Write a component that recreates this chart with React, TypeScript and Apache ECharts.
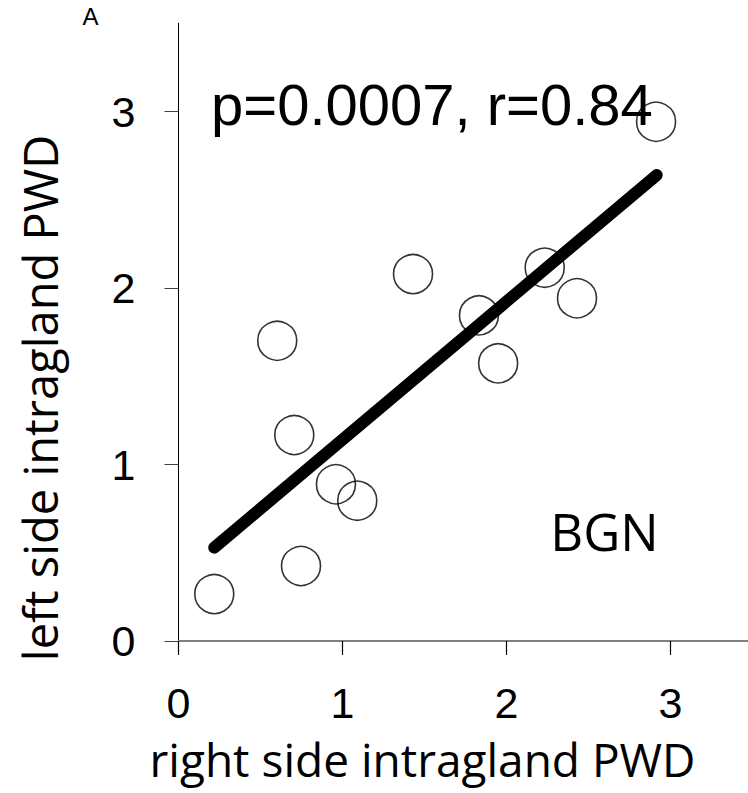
import React, { useEffect, useRef } from "react";
import * as echarts from "echarts";

// right side intragland PWD (x) and left side intragland PWD (y)
const rightPWD = [0.218, 0.747, 0.602, 0.706, 0.96, 1.09, 1.43, 1.832, 1.949, 2.233, 2.43, 2.912];
const leftPWD = [0.266, 0.425, 1.701, 1.167, 0.888, 0.795, 2.079, 1.845, 1.573, 2.115, 1.942, 2.942];
// regression line end points
const fitX = [0.218, 2.916];
const fitY = [0.529, 2.64];
const tickValues = [0, 1, 2, 3];

const statText = "p=0.0007, r=0.84";
const groupText = "BGN";
const panelText = "A";
const xTitle = "right side intragland PWD";
const yTitle = "left side intragland PWD";

export default function App() {
  const ref = useRef<HTMLDivElement>(null);
  useEffect(() => {
    document.body.style.margin = "0";
    const chart = echarts.init(ref.current!, null, { renderer: "svg" });
    const pts = rightPWD.map((x, i) => [x, leftPWD[i]]);
    const fit = fitX.map((x, i) => [x, fitY[i]]);
    const arial = "'Liberation Sans', Arial, sans-serif";
    const sans = "'Open Sans', sans-serif";
    chart.setOption({
      animation: false,
      backgroundColor: "#ffffff",
      textStyle: { fontFamily: arial },
      grid: {
        left: 178.5,
        top: 23.25,
        width: 574,
        height: 617.75,
        containLabel: false,
        outerBoundsMode: "none",
      },
      xAxis: {
        type: "value",
        min: 0,
        max: 3.5,
        interval: 1,
        axisLine: { show: true, lineStyle: { color: "#808080", width: 2 } },
        axisTick: {
          show: true,
          length: 14,
          inside: false,
          customValues: tickValues,
          lineStyle: { color: "#000000", width: 1.2 },
        },
        axisLabel: {
          customValues: tickValues,
          fontSize: 43,
          fontFamily: arial,
          color: "#000000",
          margin: 40,
        },
        splitLine: { show: false },
      },
      yAxis: {
        type: "value",
        min: 0,
        max: 3.5,
        interval: 1,
        axisLine: { show: true, lineStyle: { color: "#000000", width: 1 } },
        axisTick: {
          show: true,
          length: 14,
          inside: false,
          customValues: tickValues,
          lineStyle: { color: "#404040", width: 1 },
        },
        axisLabel: {
          customValues: tickValues,
          fontSize: 43,
          fontFamily: arial,
          color: "#000000",
          margin: 43,
        },
        splitLine: { show: false },
      },
      series: [
        {
          type: "scatter",
          data: pts,
          symbol: "circle",
          symbolSize: 39,
          itemStyle: { color: "rgba(0,0,0,0)", borderColor: "#000000", borderWidth: 1.6 },
          z: 2,
        },
        {
          type: "line",
          data: fit,
          symbol: "none",
          lineStyle: { color: "#000000", width: 12, cap: "round" },
          z: 3,
        },
      ],
      graphic: [
        {
          type: "text",
          x: 90.5,
          y: 16.5,
          style: { text: panelText, font: `24px ${arial}`, fill: "#000", align: "center", verticalAlign: "middle" },
        },
        {
          type: "text",
          x: 211,
          y: 104,
          style: { text: statText, font: `58px ${arial}`, fill: "#000", align: "left", verticalAlign: "middle" },
        },
        {
          type: "text",
          x: 604.5,
          y: 531,
          style: { text: groupText, font: `51px ${sans}`, fill: "#000", align: "center", verticalAlign: "middle" },
        },
        {
          type: "text",
          x: 422.5,
          y: 759,
          style: { text: xTitle, font: `46px ${sans}`, fill: "#000", align: "center", verticalAlign: "middle" },
        },
        {
          type: "text",
          x: 40,
          y: 398,
          rotation: Math.PI / 2,
          style: { text: yTitle, font: `47px ${sans}`, fill: "#000", align: "center", verticalAlign: "middle" },
        },
      ],
    });
    return () => chart.dispose();
  }, []);
  return <div ref={ref} style={{ width: 748, height: 793 }} />;
}
